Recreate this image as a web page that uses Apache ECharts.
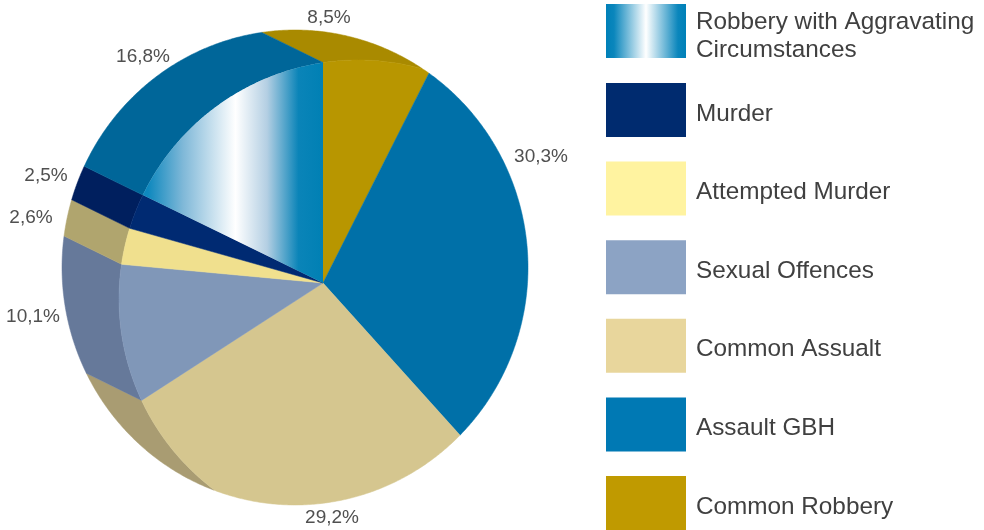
<!DOCTYPE html>
<html>
<head>
<meta charset="utf-8">
<style>html,body{margin:0;padding:0;background:#fff}#c{width:984px;height:530px}</style>
<script src="https://cdn.jsdelivr.net/npm/echarts@6/dist/echarts.min.js"></script>
</head>
<body>
<div id="c"></div>
<script>
// Data, clockwise from 12 o'clock
const sliceNames = ['Common Robbery','Assault GBH','Common Assualt','Sexual Offences','Attempted Murder','Murder','Robbery with Aggravating Circumstances'];
const sliceValues = [8.5,30.3,29.2,10.1,2.6,2.5,16.8];
const sliceLabels = ['8,5%','30,3%','29,2%','10,1%','2,6%','2,5%','16,8%'];
const legendOrder = ['Robbery with Aggravating Circumstances','Murder','Attempted Murder','Sexual Offences','Common Assualt','Assault GBH','Common Robbery'];

// Styles
const faceColors = ['#B89600','#0070A8','#D5C68F','#8097B8','#F0E08E','#002A72',null];
const wallColors = ['#A98A00','#006699','#A99C72','#66799A','#B0A56E','#001F5E','#006699'];
const legendColors = ['#C09A00','#0079B4','#E8D69C','#8CA3C4','#FFF3A0','#002B6F',null];
const labelAnchors = [[329,18],[541,157],[332,518],[33,317],[31,218],[46,176],[143,57]];

// Geometry of the tilted pie
const apex = {x:323,y:283};
const frontShape = {cx:358,cy:299,rx:239,ry:239};
const backShape = {cx:295,cy:267.5,rx:233,ry:237.5};
const wallDir = {x:-63,y:-31};

function hit(px,py,dx,dy,E){
  const a=(dx/E.rx)**2+(dy/E.ry)**2;
  const b=2*((px-E.cx)*dx/E.rx**2+(py-E.cy)*dy/E.ry**2);
  const c=((px-E.cx)/E.rx)**2+((py-E.cy)/E.ry)**2-1;
  return (-b+Math.sqrt(Math.max(0,b*b-4*a*c)))/(2*a);
}
function rim(deg){
  const t=deg*Math.PI/180, dx=Math.sin(t), dy=-Math.cos(t);
  const tf=hit(apex.x,apex.y,dx,dy,frontShape), tb=hit(apex.x,apex.y,dx,dy,backShape);
  const r=Math.min(tf,tb);
  return {x:apex.x+dx*r,y:apex.y+dy*r,r,onFront:tf<tb};
}
function backRim(deg){
  const t=deg*Math.PI/180, dx=Math.sin(t), dy=-Math.cos(t);
  const r=hit(apex.x,apex.y,dx,dy,backShape);
  return [apex.x+dx*r,apex.y+dy*r];
}
function angleOf(p){
  const a=Math.atan2(p[0]-apex.x,-(p[1]-apex.y))*180/Math.PI;
  return a<0?a+360:a;
}
function backArc(fromDeg,toDeg){
  const pts=[],n=Math.max(2,Math.ceil(Math.abs(toDeg-fromDeg)/0.5));
  for(let k=0;k<=n;k++){pts.push(backRim(fromDeg+(toDeg-fromDeg)*k/n));}
  return pts;
}
// Slice edges: each slice's area on the tilted face is proportional to its value
const STEP=0.1;
let areaTotal=0;
for(let a=0;a<360;a+=STEP){areaTotal+=rim(a).r**2;}
const total=sliceValues.reduce((s,v)=>s+v,0);
const sliceEdges=[0];
{
  let acc=0,a=0,cum=0;
  for(let i=0;i<sliceValues.length-1;i++){
    cum+=sliceValues[i];
    while(acc/areaTotal<cum/total && a<360){acc+=rim(a).r**2;a+=STEP;}
    sliceEdges.push(a);
  }
  sliceEdges.push(360);
}

const robberyFill=new echarts.graphic.LinearGradient(148,0,323,0,[
  {offset:0,color:'#0E88BE'},
  {offset:0.2,color:'#7FB8D8'},
  {offset:0.5,color:'#FFFFFF'},
  {offset:0.68,color:'#B4CFE3'},
  {offset:0.86,color:'#0A84B8'},
  {offset:1,color:'#0080B4'}
],true);
const legendRobberyFill=new echarts.graphic.LinearGradient(0,0,1,0,[
  {offset:0,color:'#0080B8'},
  {offset:0.1,color:'#0A86BC'},
  {offset:0.5,color:'#FFFFFF'},
  {offset:0.9,color:'#0A86BC'},
  {offset:1,color:'#0080B8'}
]);

function renderSlice(i){
  const a0=sliceEdges[i],a1=sliceEdges[i+1];
  const n=Math.max(2,Math.ceil((a1-a0)/0.5));
  const face=[[apex.x,apex.y]],inner=[],outer=[];
  let startsOnFront=false,endsOnFront=false;
  for(let k=0;k<=n;k++){
    const p=rim(a0+(a1-a0)*k/n);
    face.push([p.x,p.y]);
    if(k===0)startsOnFront=p.onFront;
    if(k===n)endsOnFront=p.onFront;
    if(p.onFront){
      const t=hit(p.x,p.y,wallDir.x,wallDir.y,backShape);
      inner.push([p.x,p.y]);
      outer.push([p.x+wallDir.x*t,p.y+wallDir.y*t]);
    }
  }
  const fill=faceColors[i]||robberyFill;
  const children=[];
  if(inner.length>1){
    let pts=inner.slice();
    if(!endsOnFront){
      pts=pts.concat(backArc(angleOf(inner[inner.length-1]),angleOf(outer[outer.length-1])));
    }
    pts=pts.concat(outer.slice().reverse());
    if(!startsOnFront){
      pts=pts.concat(backArc(angleOf(outer[0]),angleOf(inner[0])));
    }
    children.push({type:'polygon',z2:1,shape:{points:pts},
      style:{fill:wallColors[i],stroke:wallColors[i],lineWidth:0.5}});
  }
  children.push({type:'polygon',z2:10,shape:{points:face},
    style:faceColors[i]?{fill,stroke:fill,lineWidth:0.5}:{fill}});
  children.push({type:'text',z2:20,silent:true,style:{
    text:sliceLabels[i],x:labelAnchors[i][0],y:labelAnchors[i][1],
    fill:'#505050',font:'19px "Liberation Sans"',align:'center',verticalAlign:'middle'}});
  return {type:'group',children};
}

const legendItem=name=>{
  const i=sliceNames.indexOf(name);
  return {name,itemStyle:{color:legendColors[i]||legendRobberyFill}};
};
const legendFont={fontFamily:'Liberation Sans',fontSize:24.3,color:'#404040'};
const legendBase={
  orient:'vertical',left:606,padding:0,
  itemWidth:80,itemHeight:54,itemGap:24.6,icon:'rect',selectedMode:false
};

const chart=echarts.init(document.getElementById('c'),null,{renderer:'canvas'});
chart.setOption({
  animation:false,
  backgroundColor:'#ffffff',
  legend:[
    Object.assign({},legendBase,{
      top:4,height:70,
      formatter:()=>'{a|Robbery with Aggravating}\n{b|Circumstances}',
      textStyle:Object.assign({},legendFont,{padding:[0,0,0,5],rich:{
        a:Object.assign({},legendFont,{lineHeight:34,verticalAlign:'bottom'}),
        b:Object.assign({},legendFont,{lineHeight:28,verticalAlign:'bottom'})
      }}),
      data:legendOrder.slice(0,1).map(legendItem)
    }),
    Object.assign({},legendBase,{
      top:83,height:460,
      formatter:n=>'{t|'+n+'}',
      textStyle:Object.assign({},legendFont,{padding:[0,0,0,5],rich:{
        t:Object.assign({},legendFont,{lineHeight:32,verticalAlign:'bottom'})
      }}),
      data:legendOrder.slice(1).map(legendItem)
    })
  ],
  series:sliceNames.map((name,i)=>({
    type:'custom',name,coordinateSystem:'none',
    data:[[sliceValues[i]]],
    itemStyle:{color:faceColors[i]||'#0080B8'},
    renderItem:()=>renderSlice(i)
  }))
});
</script>
</body>
</html>
